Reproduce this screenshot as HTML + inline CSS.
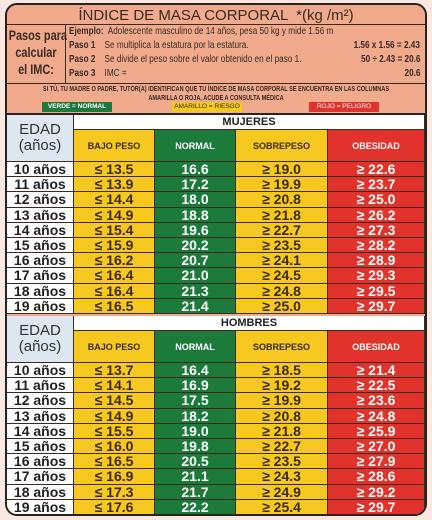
<!DOCTYPE html>
<html><head><meta charset="utf-8"><style>
*{margin:0;padding:0;box-sizing:border-box}
body{width:432px;height:520px;background:#fbe8e0;font-family:"Liberation Sans",sans-serif;position:relative;overflow:hidden}
.abs{position:absolute}
#card{left:5px;top:3px;width:422px;height:513px;border:2px solid #2a2220;border-radius:12px;background:#f1aa8c;overflow:hidden}
.t{position:absolute;white-space:nowrap}
.sl{transform:scaleX(0.82);transform-origin:left center}
.sr{transform:scaleX(0.82);transform-origin:right center}
.cell{position:absolute;display:flex;align-items:center;justify-content:center;font-weight:bold;border-right:1px solid #3a2a20;border-bottom:1px solid #3a2a20}
.y{background:#f7c81f;color:#3a2a10}.g{background:#1c7a3a;color:#fff}.r{background:#e1322b;color:#fff}.w{background:#fff;color:#222}.b{background:#dde7f1;color:#333}
</style></head><body>
<div id="card" class="abs">
 <div class="t" style="left:0;width:418px;top:2px;text-align:center;font-size:15px;color:#3a2a20">ÍNDICE DE MASA CORPORAL &nbsp;*(kg /m²)</div>
 <div class="abs" style="left:0;top:19px;width:418px;height:1px;background:#3a2a20"></div>
 <div class="abs" style="left:58px;top:19px;width:1px;height:59px;background:#3a2a20"></div>
 <div class="abs" style="left:0;top:78px;width:418px;height:1px;background:#3a2a20"></div>
 <div class="t" style="left:-6px;width:70px;top:22px;text-align:center;font-size:14px;font-weight:bold;line-height:17px;color:#3a2a20;transform:scaleX(0.78)">Pasos para<br>calcular<br>el IMC:</div>
 <div class="t sl" style="left:62px;top:21px;font-size:10px;color:#3a2a20"><b>Ejemplo:</b>&nbsp; Adolescente masculino de 14 años, pesa 50 kg y mide 1.56 m</div>
 <div class="t sl" style="left:62px;top:35px;font-size:10px;color:#3a2a20"><b>Paso 1</b>&nbsp;&nbsp;&nbsp; Se multiplica la estatura por la estatura.</div>
 <div class="t sl" style="left:62px;top:49px;font-size:10px;color:#3a2a20"><b>Paso 2</b>&nbsp;&nbsp;&nbsp; Se divide el peso sobre el valor obtenido en el paso 1.</div>
 <div class="t sl" style="left:62px;top:63px;font-size:10px;color:#3a2a20"><b>Paso 3</b>&nbsp;&nbsp;&nbsp; IMC =</div>
 <div class="t sr" style="right:5px;top:35px;font-size:10px;font-weight:bold;color:#3a2a20">1.56 x 1.56 = 2.43</div>
 <div class="t sr" style="right:5px;top:49px;font-size:10px;font-weight:bold;color:#3a2a20">50 ÷ 2.43 = 20.6</div>
 <div class="t sr" style="right:5px;top:63px;font-size:10px;font-weight:bold;color:#3a2a20">20.6</div>
 <div class="t" style="left:-40px;width:498px;top:80px;text-align:center;font-size:7px;font-weight:bold;line-height:9px;color:#3a2a20;transform:scaleX(0.8)">SI TÚ, TU MADRE O PADRE, TUTOR(A) IDENTIFICAN QUE TU ÍNDICE DE MASA CORPORAL SE ENCUENTRA EN LAS COLUMNAS<br>AMARILLA O ROJA, ACUDE A CONSULTA MÉDICA</div>
 <div class="abs g" style="left:35px;top:97px;width:70px;height:10px;font-size:6.5px;font-weight:bold;text-align:center;line-height:10px">VERDE = NORMAL</div>
 <div class="abs y" style="left:165px;top:97px;width:70px;height:10px;font-size:6.5px;text-align:center;line-height:10px">AMARILLO = RIESGO</div>
 <div class="abs r" style="left:302px;top:97px;width:70px;height:10px;font-size:6.5px;text-align:center;line-height:10px">ROJO = PELIGRO</div>
 <div class="abs" style="left:0;top:108px;width:418px;height:2px;background:#2a2220"></div>
 <div id="tables"></div>
</div>
<script>
const ages=["10 años","11 años","12 años","13 años","14 años","15 años","16 años","17 años","18 años","19 años"];
const mujBajo=["13.5","13.9","14.4","14.9","15.4","15.9","16.2","16.4","16.4","16.5"];
const mujNormal=["16.6","17.2","18.0","18.8","19.6","20.2","20.7","21.0","21.3","21.4"];
const mujSobre=["19.0","19.9","20.8","21.8","22.7","23.5","24.1","24.5","24.8","25.0"];
const mujObes=["22.6","23.7","25.0","26.2","27.3","28.2","28.9","29.3","29.5","29.7"];
const homBajo=["13.7","14.1","14.5","14.9","15.5","16.0","16.5","16.9","17.3","17.6"];
const homNormal=["16.4","16.9","17.5","18.2","19.0","19.8","20.5","21.1","21.7","22.2"];
const homSobre=["18.5","19.2","19.9","20.8","21.8","22.7","23.5","24.3","24.9","25.4"];
const homObes=["21.4","22.5","23.6","24.8","25.9","27.0","27.9","28.6","29.2","29.7"];
const T=document.getElementById('tables');
const cols=[[0,67],[67,81],[148,81],[229,92],[321,97]];
function mk(cls,x,y,w,h,txt,fs,name){
 const d=document.createElement('div');
 d.className='cell '+cls;
 
 
 d.style.cssText=`left:${x}px;top:${y}px;width:${w}px;height:${h}px;font-size:${fs}px`;
 d.innerHTML=txt;T.appendChild(d);}
function table(top,title,b,n,s,o,key){
 mk('b',0,top,67,47,'<span style="font-weight:normal;text-align:center;line-height:16px;font-size:15px">EDAD<br>(años)</span>',15,key+'-edad-header');
 mk('w',67,top,351,15,title,11,key+'-title');
 const hs=[['y','BAJO PESO'],['g','NORMAL'],['y','SOBREPESO'],['r','OBESIDAD']];
 hs.forEach((h,i)=>mk(h[0],cols[i+1][0],top+15,cols[i+1][1],32,h[1],9,key+'-col-header'));
 const rh=15.2;
 ages.forEach((a,i)=>{const y=top+47+i*rh;
  mk('w',0,y,67,rh,a,14,key+'-age');
  mk('y',cols[1][0],y,cols[1][1],rh,'≤ '+b[i],14,key+'-bajo');
  mk('g',cols[2][0],y,cols[2][1],rh,n[i],14,key+'-normal');
  mk('y',cols[3][0],y,cols[3][1],rh,'≥ '+s[i],14,key+'-sobre');
  mk('r',cols[4][0],y,cols[4][1],rh,'≥ '+o[i],14,key+'-obes');});
}
table(110,'MUJERES',mujBajo,mujNormal,mujSobre,mujObes,'mujeres');
table(311,'HOMBRES',homBajo,homNormal,homSobre,homObes,'hombres');
</script>
</body></html>
